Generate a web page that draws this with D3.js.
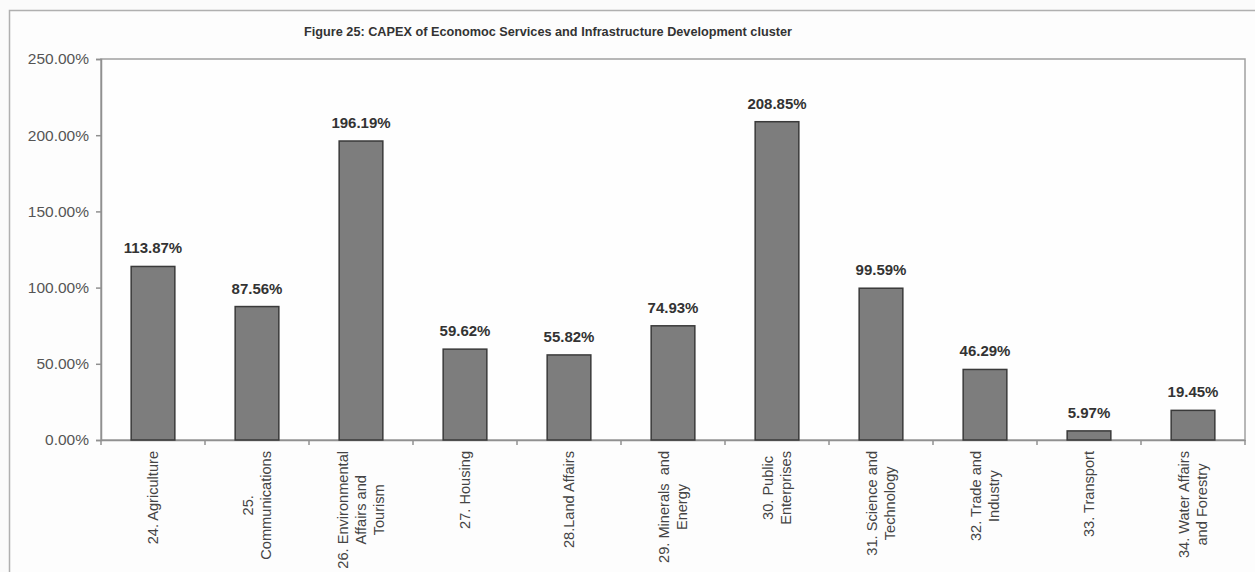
<!DOCTYPE html>
<html><head><meta charset="utf-8">
<script src="https://cdn.jsdelivr.net/npm/d3@7/dist/d3.min.js"></script>
<style>
html,body{margin:0;padding:0;background:#fbfbfb;}
svg{display:block;font-family:"Liberation Sans",Arial,sans-serif;}
</style></head>
<body>
<svg id="chart" width="1255" height="572"></svg>
<script>
const title = "Figure 25: CAPEX of Economoc Services and Infrastructure Development cluster";
const categories = [
  ["24. Agriculture"],
  ["25.", "Communications"],
  ["26. Environmental", "Affairs and", "Tourism"],
  ["27. Housing"],
  ["28.Land Affairs"],
  ["29. Minerals  and", "Energy"],
  ["30. Public", "Enterprises"],
  ["31. Science and", "Technology"],
  ["32. Trade and", "Industry"],
  ["33. Transport"],
  ["34. Water Affairs", "and Forestry"]
];
const values = [113.87, 87.56, 196.19, 59.62, 55.82, 74.93, 208.85, 99.59, 46.29, 5.97, 19.45];
const yTicks = [0, 50, 100, 150, 200, 250];

const svg = d3.select("#chart");
const m = {left: 101, right: 1245, top: 59, bottom: 440};

// outer chart border
svg.append("rect").attr("x", 9.5).attr("y", 10.5).attr("width", 1300).attr("height", 600)
  .attr("fill", "#fdfdfd").attr("stroke", "#b0b0b0").attr("stroke-width", 1.5);

svg.append("text").attr("x", 548).attr("y", 36).attr("text-anchor", "middle")
  .attr("font-weight", "bold").attr("font-size", 12.7).attr("fill", "#333").text(title);

const x = d3.scaleBand().domain(d3.range(categories.length)).range([m.left, m.right]).paddingInner(0.58).paddingOuter(0.29);
const xb = d3.scaleBand().domain(d3.range(categories.length)).range([m.left, m.right]);
const y = d3.scaleLinear().domain([0, 250]).range([m.bottom, m.top]);

// plot area
svg.append("rect").attr("x", m.left).attr("y", m.top).attr("width", m.right - m.left).attr("height", m.bottom - m.top)
  .attr("fill", "#fefefe").attr("stroke", "#a0a0a0").attr("stroke-width", 1.5);

// y axis
const yAxis = d3.axisLeft(y).tickValues(yTicks).tickSize(5).tickPadding(7)
  .tickFormat(d => d.toFixed(2) + "%");
const gy = svg.append("g").attr("transform", `translate(${m.left},0)`).call(yAxis);
gy.select(".domain").attr("stroke", "#909090").attr("stroke-width", 1.5);
gy.selectAll(".tick line").attr("stroke", "#909090").attr("stroke-width", 1.5);
gy.selectAll(".tick text").attr("font-size", 15.5).attr("fill", "#555").attr("font-family", "Liberation Sans, Arial, sans-serif");

// x axis
const xAxis = d3.axisBottom(xb).tickSize(0).tickFormat("");
const gx = svg.append("g").attr("transform", `translate(0,${m.bottom})`).call(xAxis);
gx.select(".domain").attr("stroke", "#909090").attr("stroke-width", 1.5);
gx.selectAll(".tick").remove();
const bounds = d3.range(categories.length + 1).map(i => i < categories.length ? xb(i) : xb(i - 1) + xb.bandwidth());
gx.selectAll(".bt").data(bounds).enter().append("line")
  .attr("x1", d => d).attr("x2", d => d).attr("y1", 0).attr("y2", 5)
  .attr("stroke", "#909090").attr("stroke-width", 1.5);

// bars
svg.selectAll(".bar").data(values).enter().append("rect")
  .attr("x", (d, i) => x(i)).attr("width", x.bandwidth())
  .attr("y", d => y(d)).attr("height", d => y(0) - y(d))
  .attr("fill", "#7d7d7d").attr("stroke", "#3a3a3a").attr("stroke-width", 1.5);

// value labels
svg.selectAll(".vl").data(values).enter().append("text")
  .attr("x", (d, i) => x(i) + x.bandwidth() / 2).attr("y", d => y(d) - 13)
  .attr("text-anchor", "middle").attr("font-weight", "bold").attr("font-size", 15)
  .attr("fill", "#333").text(d => d.toFixed(2) + "%");

// category labels (rotated, multi-line, centered lines)
const lineH = 18, fs = 14.6, labelTop = 451;
categories.forEach((lines, i) => {
  const cx = xb(i) + xb.bandwidth() / 2;
  const g = svg.append("g");
  const texts = lines.map((t, j) => g.append("text").attr("font-size", fs).attr("fill", "#444")
    .attr("text-anchor", "middle").attr("xml:space", "preserve").style("white-space", "pre").text(t));
  const maxLen = d3.max(texts, t => t.node().getComputedTextLength());
  const cy = labelTop + maxLen / 2;
  texts.forEach((t, j) => {
    const lx = cx + (j - (lines.length - 1) / 2) * lineH + fs * 0.35;
    t.attr("transform", `translate(${lx},${cy}) rotate(-90)`);
  });
});
</script>
</body></html>
